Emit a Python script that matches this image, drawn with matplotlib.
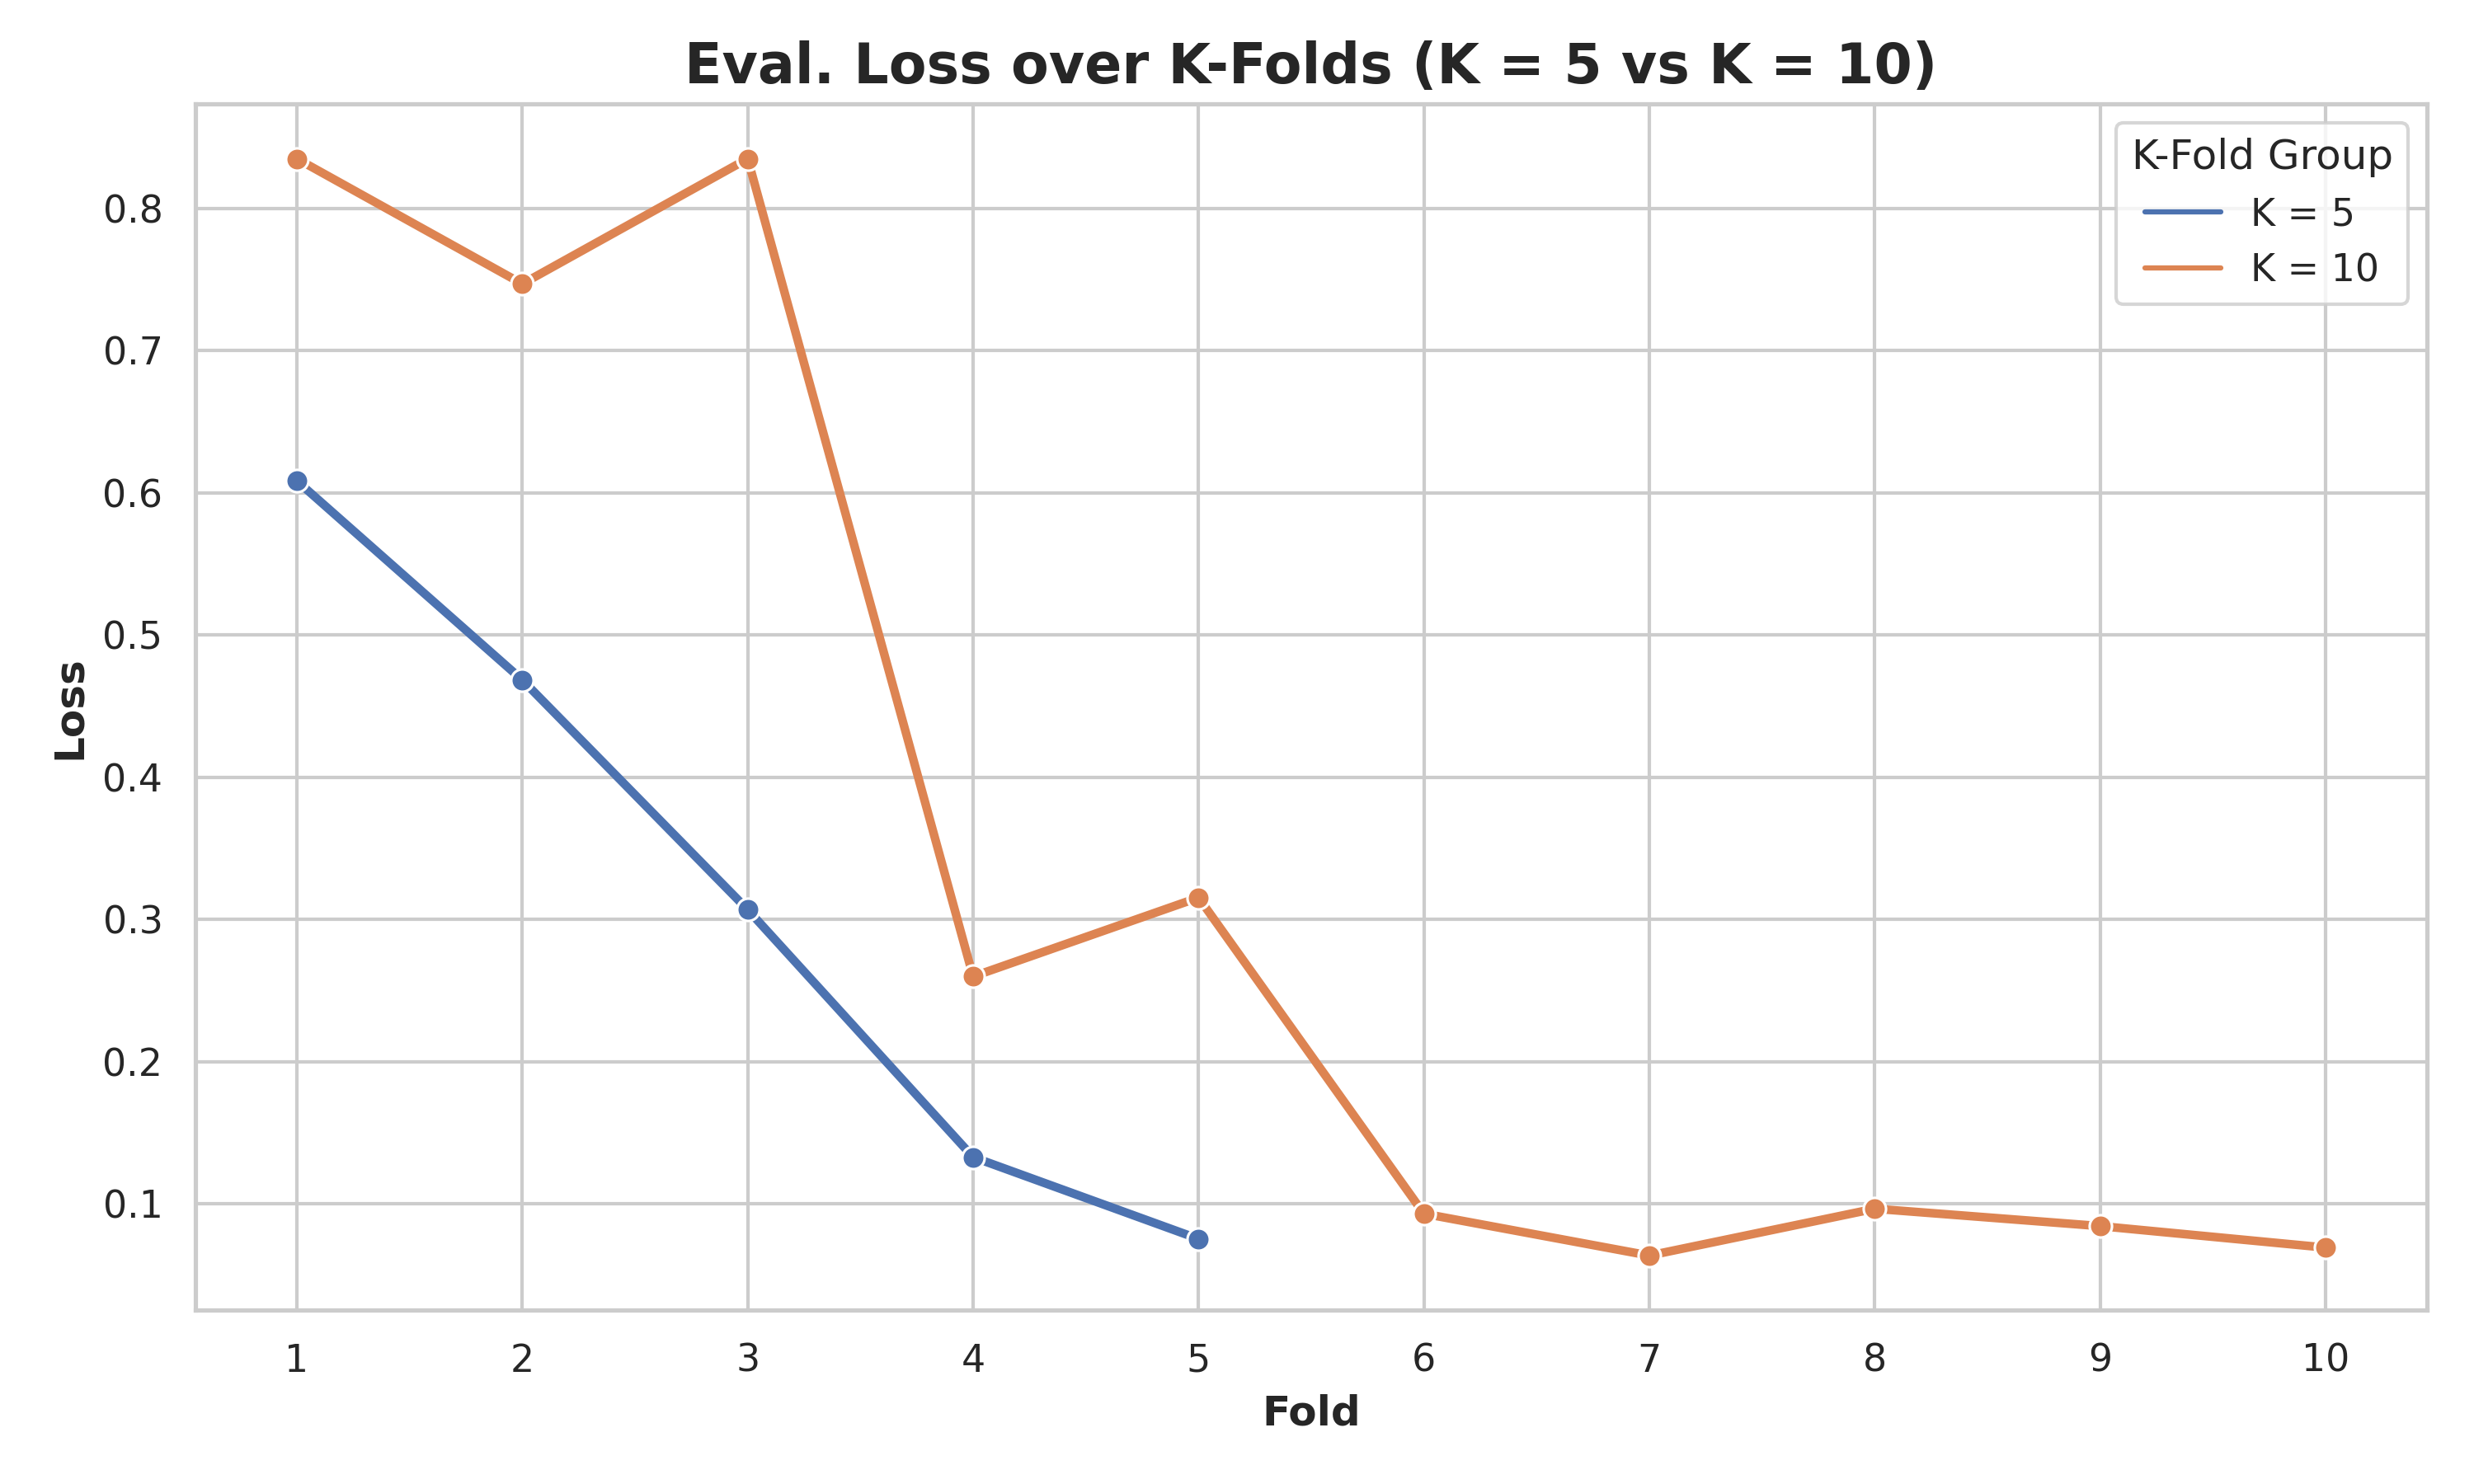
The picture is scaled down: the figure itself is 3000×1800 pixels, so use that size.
import numpy as np
import matplotlib
matplotlib.use("Agg")
import matplotlib.pyplot as plt
import seaborn as sns
from matplotlib.lines import Line2D

# Valeurs
folds_k5 = [1, 2, 3, 4, 5]
loss_k5 = [0.6085, 0.4685, 0.307, 0.133, 0.0755]

folds_k10 = [1, 2, 3, 4, 5, 6, 7, 8, 9, 10]
loss_k10 = [0.835, 0.747, 0.835, 0.260, 0.3155, 0.0932, 0.0638, 0.0967, 0.0845, 0.0694]

group_labels = ["K = 5", "K = 10"]

sns.set_theme(style="whitegrid")
colors = sns.color_palette("deep")

fig, ax = plt.subplots(figsize=(10, 6), dpi=300)

ax.plot(folds_k5, loss_k5, color=colors[0], lw=2.5, marker="o",
        markersize=6.5, markeredgecolor="white", markeredgewidth=0.75)
ax.plot(folds_k10, loss_k10, color=colors[1], lw=2.5, marker="o",
        markersize=6.5, markeredgecolor="white", markeredgewidth=0.75)

ax.set_xticks(folds_k10)
ax.set_title("Eval. Loss over K-Folds (K = 5 vs K = 10)", fontsize=16, fontweight="bold")
ax.set_xlabel("Fold", fontsize=12, fontweight="bold")
ax.set_ylabel("Loss", fontsize=12, fontweight="bold")

handles = [Line2D([0], [0], color=colors[0], lw=1.5),
           Line2D([0], [0], color=colors[1], lw=1.5)]
ax.legend(handles, group_labels, title="K-Fold Group", loc="upper right")

plt.subplots_adjust(left=0.079, right=0.981, top=0.93, bottom=0.117)
plt.savefig("out.png")
